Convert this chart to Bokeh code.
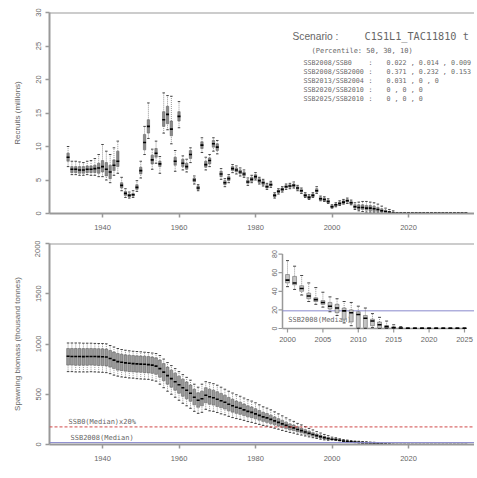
import math
from bokeh.plotting import figure
from bokeh.layouts import column
from bokeh.models import Span, Label, FixedTicker, Range1d
from bokeh.core.properties import value
from bokeh.embed import file_html
from bokeh.resources import INLINE

# ---------------- data ----------------
years = list(range(1931, 2036))

x_ticks = [1940, 1960, 1980, 2000, 2020]
rec_ticks = [0, 5, 10, 15, 20, 25, 30]
ssb_ticks = [0, 500, 1000, 1500, 2000]
inset_xticks = [2000, 2005, 2010, 2015, 2020, 2025]
inset_yticks = [0, 20, 40, 60, 80]

# Recruits (millions): median, box (q1, q3), whiskers (lo, hi)
rec_med = [8.4, 6.6, 6.6, 6.5, 6.5, 6.6, 6.6, 6.7, 6.8,
           7.0, 6.6, 6.2, 7.2, 7.8, 4.2, 3.0, 2.7, 2.8, 3.9,
           6.4, 10.6, 13.0, 8.0, 9.0, 7.4, 14.0, 14.8, 12.6, 7.8,
           14.5, 7.5, 7.0, 8.8, 5.0, 3.8, 10.2, 7.3, 7.9, 10.4,
           9.9, 5.9, 4.6, 5.2, 6.7, 6.5, 6.2, 5.9, 4.7, 5.1,
           5.5, 4.9, 4.6, 4.0, 4.3, 2.7, 3.3, 3.6, 4.0, 4.1,
           4.2, 3.8, 3.4, 2.7, 2.4, 2.7, 3.4, 2.2, 2.1, 1.8,
           1.0, 1.3, 1.5, 1.7, 1.9, 1.6, 1.0, 0.9, 0.9, 0.8,
           0.8, 0.7, 0.6, 0.4, 0.3, 0.2, 0.1, 0.05, 0.05, 0.05,
           0.05, 0.05, 0.05, 0.05, 0.05, 0.05, 0.05, 0.05, 0.05, 0.05,
           0.05, 0.05, 0.05, 0.05, 0.05, 0.05]
rec_q1 = [7.8, 6.1, 6.1, 6.0, 6.0, 6.1, 6.1, 6.1, 6.0,
          6.2, 5.6, 5.2, 6.4, 7.0, 3.8, 2.7, 2.5, 2.6, 3.6,
          5.9, 9.5, 12.0, 7.4, 8.4, 7.0, 13.0, 13.4, 11.6, 7.2,
          13.8, 7.0, 6.6, 8.2, 4.7, 3.6, 9.7, 6.9, 7.4, 9.9,
          9.4, 5.5, 4.3, 4.9, 6.4, 6.2, 5.9, 5.6, 4.5, 4.8,
          5.2, 4.6, 4.3, 3.8, 4.1, 2.5, 3.1, 3.4, 3.8, 3.9,
          4.0, 3.6, 3.2, 2.5, 2.2, 2.5, 3.2, 2.0, 1.9, 1.6,
          0.9, 1.1, 1.3, 1.5, 1.7, 1.4, 0.8, 0.6, 0.6, 0.5,
          0.4, 0.3, 0.3, 0.2, 0.1, 0.1, 0.05, 0.02, 0.02, 0.02,
          0.02, 0.02, 0.02, 0.02, 0.02, 0.02, 0.02, 0.02, 0.02, 0.02,
          0.02, 0.02, 0.02, 0.02, 0.02, 0.02]
rec_q3 = [9.0, 7.0, 7.0, 7.0, 7.0, 7.1, 7.1, 7.2, 7.5,
          7.9, 7.6, 7.2, 8.0, 9.3, 4.6, 3.3, 2.9, 3.0, 4.3,
          6.9, 11.8, 14.0, 8.7, 9.7, 7.8, 15.2, 16.0, 13.8, 8.4,
          15.2, 8.1, 7.5, 9.4, 5.3, 4.1, 10.7, 7.8, 8.3, 10.9,
          10.4, 6.3, 4.9, 5.5, 7.0, 6.8, 6.5, 6.2, 5.0, 5.4,
          5.8, 5.2, 4.9, 4.3, 4.6, 2.9, 3.5, 3.8, 4.2, 4.3,
          4.4, 4.0, 3.6, 2.9, 2.6, 2.9, 3.7, 2.4, 2.3, 2.0,
          1.2, 1.4, 1.7, 1.9, 2.1, 1.8, 1.3, 1.3, 1.3, 1.2,
          1.2, 1.1, 0.9, 0.7, 0.5, 0.3, 0.2, 0.08, 0.08, 0.08,
          0.08, 0.08, 0.08, 0.08, 0.08, 0.08, 0.08, 0.08, 0.08, 0.08,
          0.08, 0.08, 0.08, 0.08, 0.08, 0.08]
rec_lo = [7.0, 5.8, 5.8, 5.7, 5.7, 5.8, 5.7, 5.7, 5.5,
          5.5, 5.0, 4.6, 5.7, 6.0, 3.4, 2.4, 2.3, 2.4, 3.3,
          5.3, 8.8, 11.2, 6.6, 7.5, 6.0, 12.0, 12.5, 10.4, 6.3,
          12.8, 6.5, 6.2, 7.6, 4.4, 3.4, 9.1, 6.5, 7.0, 9.3,
          8.9, 5.1, 4.0, 4.6, 6.1, 5.9, 5.6, 5.4, 4.2, 4.6,
          5.0, 4.4, 4.1, 3.6, 3.9, 2.3, 2.9, 3.2, 3.6, 3.7,
          3.8, 3.4, 3.0, 2.4, 2.1, 2.4, 3.0, 1.9, 1.8, 1.5,
          0.8, 1.0, 1.2, 1.4, 1.5, 1.3, 0.6, 0.4, 0.3, 0.2,
          0.2, 0.1, 0.1, 0.05, 0.0, 0.0, 0.0, 0.0, 0.0, 0.0,
          0.0, 0.0, 0.0, 0.0, 0.0, 0.0, 0.0, 0.0, 0.0, 0.0,
          0.0, 0.0, 0.0, 0.0, 0.0, 0.0]
rec_hi = [10.0, 7.8, 7.8, 7.7, 7.6, 7.8, 7.9, 8.2, 8.8,
          10.3, 9.3, 8.8, 9.8, 10.8, 5.4, 3.7, 3.2, 3.4, 4.9,
          7.8, 13.0, 16.5, 9.6, 10.8, 8.5, 18.0, 17.6, 17.5, 9.4,
          16.7, 8.6, 8.1, 9.8, 5.6, 4.3, 11.3, 8.4, 8.8, 11.3,
          10.9, 6.7, 5.2, 5.8, 7.3, 7.1, 6.8, 6.5, 5.3, 5.7,
          6.1, 5.4, 5.1, 4.5, 4.8, 3.1, 3.7, 4.0, 4.4, 4.5,
          4.7, 4.2, 3.8, 3.1, 2.8, 3.1, 4.0, 2.6, 2.5, 2.2,
          1.3, 1.6, 1.9, 2.1, 2.3, 2.0, 1.6, 1.7, 1.8, 1.8,
          1.7, 1.6, 1.4, 1.1, 0.8, 0.6, 0.4, 0.15, 0.15, 0.15,
          0.15, 0.15, 0.15, 0.15, 0.15, 0.15, 0.15, 0.15, 0.15, 0.15,
          0.15, 0.15, 0.15, 0.15, 0.15, 0.15]

# Spawning biomass (thousand tonnes)
ssb_med = [878, 876, 875, 875, 874, 875, 876, 875, 874,
           873, 870, 855, 840, 825, 818, 812, 808, 805, 802,
           800, 798, 795, 790, 780, 755, 720, 685, 655, 625,
           595, 565, 540, 510, 470, 440, 455, 490, 475, 465,
           450, 435, 420, 400, 385, 370, 360, 345, 330, 320,
           305, 290, 275, 265, 250, 235, 220, 205, 190, 175,
           165, 150, 138, 125, 112, 100, 88, 78, 68, 60,
           52, 49, 43, 35, 31, 28, 24, 22, 19, 17,
           15, 11, 8, 4, 2, 1, 0.5, 0.2, 0.2, 0.2,
           0.2, 0.2, 0.2, 0.2, 0.2, 0.2, 0.2, 0.2, 0.2, 0.2,
           0.2, 0.2, 0.2, 0.2, 0.2, 0.2]
ssb_q1 = [790, 790, 788, 788, 788, 788, 790, 788, 786,
          785, 782, 770, 755, 740, 735, 730, 725, 722, 720,
          718, 715, 712, 708, 698, 670, 635, 600, 570, 540,
          510, 480, 455, 430, 395, 370, 385, 415, 400, 392,
          378, 365, 352, 335, 322, 310, 300, 288, 275, 267,
          255, 242, 230, 220, 208, 196, 183, 170, 158, 145,
          137, 125, 114, 103, 92, 82, 72, 64, 56, 50,
          49, 47, 40, 32, 29, 26, 21, 17, 10, 7,
          1, 1, 3, 0.5, 0.5, 0.2, 0.1, 0.1, 0.1, 0.1,
          0.1, 0.1, 0.1, 0.1, 0.1, 0.1, 0.1, 0.1, 0.1, 0.1,
          0.1, 0.1, 0.1, 0.1, 0.1, 0.1]
ssb_q3 = [955, 955, 955, 955, 954, 955, 955, 954, 953,
          952, 950, 935, 920, 905, 898, 892, 888, 885, 882,
          880, 878, 875, 870, 862, 840, 805, 770, 740, 710,
          680, 650, 622, 592, 550, 515, 530, 565, 550, 540,
          525, 508, 490, 468, 450, 432, 420, 402, 385, 373,
          356, 338, 320, 308, 292, 274, 257, 240, 222, 205,
          193, 176, 162, 147, 132, 118, 104, 92, 80, 70,
          58, 56, 46, 38, 33, 30, 28, 26, 22, 20,
          18, 14, 10, 7, 3, 1.5, 0.8, 0.3, 0.3, 0.3,
          0.3, 0.3, 0.3, 0.3, 0.3, 0.3, 0.3, 0.3, 0.3, 0.3,
          0.3, 0.3, 0.3, 0.3, 0.3, 0.3]
ssb_lo = [725, 725, 722, 722, 722, 722, 724, 722, 720,
          718, 715, 705, 690, 680, 672, 668, 662, 660, 655,
          652, 650, 648, 640, 630, 600, 565, 530, 500, 470,
          440, 410, 385, 360, 330, 310, 320, 350, 335, 330,
          318, 305, 295, 280, 268, 258, 250, 240, 228, 220,
          210, 200, 190, 182, 172, 162, 152, 140, 130, 120,
          113, 102, 94, 85, 76, 68, 60, 53, 46, 42,
          45, 42, 36, 29, 26, 23, 18, 14, 6, 3,
          0, 0, 1, 0, 0, 0, 0, 0, 0, 0,
          0, 0, 0, 0, 0, 0, 0, 0, 0, 0,
          0, 0, 0, 0, 0, 0]
ssb_hi = [1010, 1010, 1010, 1010, 1008, 1008, 1008, 1006, 1005,
          1005, 1002, 985, 970, 955, 945, 938, 932, 928, 925,
          922, 918, 915, 910, 905, 885, 850, 815, 785, 755,
          725, 695, 668, 640, 600, 570, 600, 625, 615, 605,
          590, 570, 550, 530, 512, 495, 480, 462, 445, 432,
          415, 395, 375, 362, 345, 325, 305, 285, 265, 245,
          230, 210, 195, 178, 160, 145, 128, 114, 100, 88,
          73, 67, 57, 49, 44, 39, 34, 32, 29, 28,
          24, 22, 16, 12, 8, 4, 2, 0.6, 0.6, 0.6,
          0.6, 0.6, 0.6, 0.6, 0.6, 0.6, 0.6, 0.6, 0.6, 0.6,
          0.6, 0.6, 0.6, 0.6, 0.6, 0.6]

ssb0_20pct = 175      # SSB0 (median) x 20%
ssb2008_med = 19      # SSB2008 (median)

scenario_label = "Scenario :"
scenario_name = "C1S1L1_TAC11810 t"
percentile_note = "(Percentile: 50, 30, 10)"
ratio_names = ["SSB2008/SSB0", "SSB2008/SSB2000", "SSB2013/SSB2004",
               "SSB2020/SSB2010", "SSB2025/SSB2010"]
ratio_values = ["0.022 , 0.014 , 0.009", "0.371 , 0.232 , 0.153", "0.031 , 0 , 0",
                "0 , 0 , 0", "0 , 0 , 0"]

# ---------------- layout constants (pixels) ----------------
GRAY = "#999999"
TXT = "#666666"
FONT = "Liberation Sans"
MONO = "DejaVu Sans Mono"
FIG_W = 474
LEFT = 49
FRAME_W = FIG_W - LEFT
X_START = 1940 - (102 - LEFT) / 3.825
X_END = X_START + FRAME_W / 3.825


def style(p, ticks_x, ticks_y, ylabel):
    p.xgrid.visible = False
    p.ygrid.visible = False
    p.outline_line_color = None
    p.background_fill_color = "white"
    p.xaxis.ticker = FixedTicker(ticks=ticks_x)
    p.yaxis.ticker = FixedTicker(ticks=ticks_y)
    for ax in (p.xaxis[0], p.yaxis[0]):
        ax.axis_line_color = GRAY
        ax.axis_line_width = 2
        ax.major_tick_line_color = GRAY
        ax.major_tick_line_width = 1.5
        ax.major_tick_out = 4
        ax.major_tick_in = 0
        ax.minor_tick_line_color = None
        ax.major_label_text_font_size = "7.5px"
        ax.major_label_text_color = TXT
        ax.major_label_text_font = FONT
    p.xaxis.major_label_standoff = 7
    p.yaxis.major_label_standoff = 5
    p.yaxis.major_label_orientation = "parallel"
    p.yaxis.axis_label = ylabel
    p.yaxis.axis_label_text_font_size = "8px"
    p.yaxis.axis_label_text_font_style = "normal"
    p.yaxis.axis_label_text_color = TXT
    p.yaxis.axis_label_text_font = FONT
    p.yaxis.axis_label_standoff = 11


def boxes(p, xs, med, q1, q3, lo, hi, width, fill, med_size, cap_size, **rng):
    p.segment(x0=xs, y0=q3, x1=xs, y1=hi, line_color="#666666", line_width=0.7,
              line_dash="1 1", **rng)
    p.segment(x0=xs, y0=lo, x1=xs, y1=q1, line_color="#666666", line_width=0.7,
              line_dash="1 1", **rng)
    p.vbar(x=xs, bottom=q1, top=q3, width=width, fill_color=fill,
           line_color="#555555", line_width=0.5, **rng)
    p.scatter(x=xs, y=hi, marker="dash", size=cap_size, line_color="#444444",
              line_width=1, **rng)
    p.scatter(x=xs, y=lo, marker="dash", size=cap_size, line_color="#444444",
              line_width=1, **rng)
    p.scatter(x=xs, y=med, marker="dash", size=med_size, line_color="black",
              line_width=1.6, **rng)


def px_x(px):
    return 1940 + (px - 102) / 3.825


def px_y1(py):
    return (213 - py) * 30 / 201


def text_label(p, px, py, text, size, font=MONO):
    p.add_layout(Label(x=px_x(px), y=px_y1(py), text=text, text_font=font,
                       text_font_size=size, text_color=TXT, text_baseline="middle"))


# ---------------- top panel: recruits ----------------
p1 = figure(width=FIG_W, height=240, x_range=Range1d(X_START, X_END),
            y_range=Range1d(0, 30), output_backend="svg", toolbar_location=None,
            min_border_left=LEFT, min_border_right=0, min_border_top=12,
            min_border_bottom=27)
style(p1, x_ticks, rec_ticks, "Recruits (millions)")
p1.add_layout(Span(location=rec_ticks[-1], dimension="width", line_color=GRAY,
                   line_width=2))
boxes(p1, years, rec_med, rec_q1, rec_q3, rec_lo, rec_hi, 0.62, "#8a8a8a", 3, 2.5)

text_label(p1, 292, 36, scenario_label, "10.2px", FONT)
text_label(p1, 364, 36, scenario_name, "10.2px")
text_label(p1, 311, 50, percentile_note, "7px")
for i, (nm, vl) in enumerate(zip(ratio_names, ratio_values)):
    row_y = 62 + 9.2 * i
    text_label(p1, 303, row_y, nm, "6.7px")
    text_label(p1, 368, row_y, ":", "6.7px")
    text_label(p1, 386, row_y, vl, "6.7px")

# ---------------- bottom panel: SSB ----------------
p2 = figure(width=FIG_W, height=230, x_range=Range1d(X_START, X_END),
            y_range=Range1d(0, 2000), output_backend="svg", toolbar_location=None,
            min_border_left=LEFT, min_border_right=0, min_border_top=3,
            min_border_bottom=26)
style(p2, x_ticks, ssb_ticks, "Spawning biomass (thousand tonnes)")
p2.add_layout(Span(location=ssb_ticks[-1], dimension="width", line_color=GRAY,
                   line_width=2))
p2.add_layout(Span(location=ssb0_20pct, dimension="width", line_color="#d04848",
                   line_width=1, line_dash="3 2"))
p2.add_layout(Span(location=ssb2008_med, dimension="width", line_color="#8888cc",
                   line_width=1))
boxes(p2, years, ssb_med, ssb_q1, ssb_q3, ssb_lo, ssb_hi, 0.74, "#9a9a9a", 3, 2.5)
p2.add_layout(Label(x=px_x(68), y=ssb0_20pct, y_offset=1, text="SSB0(Median)x20%",
                    text_font=MONO, text_font_size="7px", text_color=TXT,
                    text_baseline="bottom"))
p2.add_layout(Label(x=px_x(70), y=ssb2008_med, y_offset=1, text="SSB2008(Median)",
                    text_font=MONO, text_font_size="7px", text_color=TXT,
                    text_baseline="bottom"))

# ---------------- inset (2000-2025) on extra ranges ----------------
IPX = (464 - 287) / 25.0          # px per year
IPY = 0.93                        # px per unit
ix0 = inset_xticks[0] - (287 - LEFT) / IPX
iy0 = -(444 - 328) / IPY
p2.extra_x_ranges = {"ix": Range1d(ix0, ix0 + FRAME_W / IPX)}
p2.extra_y_ranges = {"iy": Range1d(iy0, iy0 + 201 / IPY)}
rng = dict(x_range_name="ix", y_range_name="iy")

sel = [i for i, y in enumerate(years) if inset_xticks[0] <= y <= inset_xticks[-1]]
iyrs = [years[i] for i in sel]
ax_x = inset_xticks[0] - 5 / IPX
x_end = ix0 + FRAME_W / IPX

# inset axes
p2.segment(x0=[ax_x], y0=[inset_yticks[0]], x1=[ax_x], y1=[inset_yticks[-1]],
           line_color=GRAY, line_width=1.5, **rng)
p2.segment(x0=[ax_x], y0=[inset_yticks[0]], x1=[inset_xticks[-1]], y1=[inset_yticks[0]],
           line_color=GRAY, line_width=1.5, **rng)
p2.segment(x0=inset_xticks, y0=[0] * len(inset_xticks), x1=inset_xticks,
           y1=[-4 / IPY] * len(inset_xticks), line_color=GRAY, line_width=1.2, **rng)
p2.segment(x0=[ax_x] * len(inset_yticks), y0=inset_yticks,
           x1=[ax_x - 4 / IPX] * len(inset_yticks), y1=inset_yticks,
           line_color=GRAY, line_width=1.2, **rng)
p2.text(x=inset_xticks, y=[-8 / IPY] * len(inset_xticks),
        text=[str(t) for t in inset_xticks], text_align="center", text_baseline="top",
        text_font=value(FONT), text_font_size="7.5px", text_color=TXT, **rng)
p2.text(x=[ax_x - 6 / IPX] * len(inset_yticks), y=inset_yticks,
        text=[str(t) for t in inset_yticks], angle=math.pi / 2, text_align="center",
        text_baseline="bottom", text_font=value(FONT), text_font_size="7px",
        text_color=TXT, **rng)
p2.segment(x0=[ax_x], y0=[ssb2008_med], x1=[x_end], y1=[ssb2008_med],
           line_color="#8888cc", line_width=1, **rng)
p2.text(x=[inset_xticks[0] + 0.1], y=[ssb2008_med - 10], text=["SSB2008(Median)"],
        text_align="left", text_baseline="middle", text_font=value(MONO),
        text_font_size="7px", text_color=TXT, **rng)
boxes(p2, iyrs, [ssb_med[i] for i in sel], [ssb_q1[i] for i in sel],
      [ssb_q3[i] for i in sel], [ssb_lo[i] for i in sel], [ssb_hi[i] for i in sel],
      0.55, "#c4c4c4", 4, 3, **rng)

layout = column(p1, p2, spacing=0)
open("out.html", "w").write(file_html(layout, INLINE))
